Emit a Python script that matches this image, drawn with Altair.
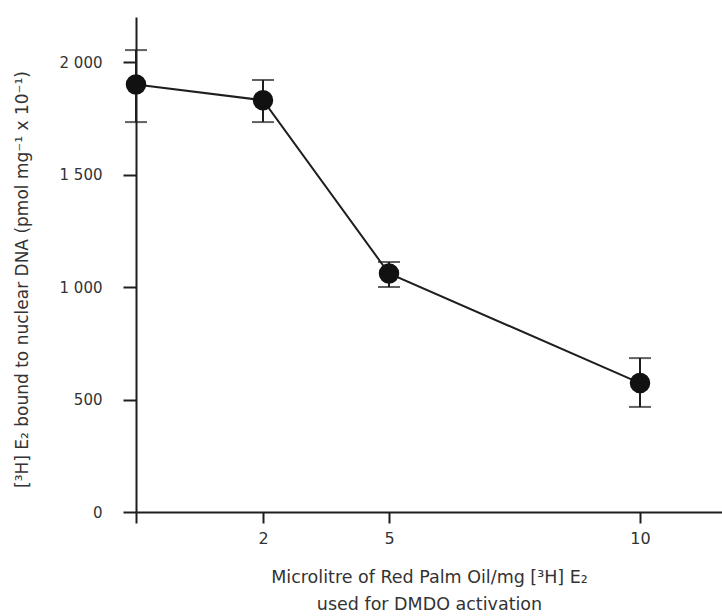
import altair as alt
import pandas as pd

dose = [0, 2, 5, 10]
mean = [1900, 1830, 1060, 573]
lower = [1733, 1733, 1000, 467]
upper = [2053, 1920, 1111, 684]

x_ticks = [0, 2, 5, 10]
y_ticks = [0, 500, 1000, 1500, 2000]

df = pd.DataFrame({"dose": dose, "mean": mean, "lower": lower, "upper": upper})

INK = "#1e1e1e"
TXT = "#333333"
FONT = "DejaVu Sans"

xscale = alt.Scale(domain=[0, 2, 5, 10, 11.63], range=[0, 127, 253, 504, 586], nice=False, zero=False)
yscale = alt.Scale(domain=[0, 2200], nice=False)

x_enc = alt.X(
    "dose:Q",
    scale=xscale,
    axis=alt.Axis(
        values=x_ticks,
        labelExpr="datum.value == 0 ? '' : datum.label",
        title=["Microlitre of Red Palm Oil/mg [³H] E₂", "used for DMDO activation"],
        grid=False,
        domainColor=INK,
        domainWidth=2,
        tickColor=INK,
        tickWidth=2,
        tickSize=11,
        labelPadding=7,
        labelFontSize=16,
        labelColor=TXT,
        labelFont=FONT,
        titleFont=FONT,
        titleFontSize=17.5,
        titleFontWeight="normal",
        titleColor=TXT,
        titlePadding=22,
        titleLineHeight=27,
    ),
)

y_enc = alt.Y(
    "mean:Q",
    scale=yscale,
    axis=alt.Axis(
        values=y_ticks,
        labelExpr="replace(format(datum.value, ','), ',', ' ')",
        title="[³H] E₂ bound to nuclear DNA (pmol mg⁻¹ x 10⁻¹)",
        grid=False,
        domainColor=INK,
        domainWidth=2,
        tickColor=INK,
        tickWidth=2,
        tickSize=13,
        labelPadding=21,
        labelFontSize=15,
        labelColor=TXT,
        labelFont=FONT,
        titleFont=FONT,
        titleFontSize=17,
        titleFontWeight="normal",
        titleColor=TXT,
        titleX=-114,
        titleY=262,
        titleBaseline="middle",
        titleAngle=-90,
    ),
)

base = alt.Chart(df)

line = base.mark_line(color=INK, strokeWidth=2).encode(x=x_enc, y=y_enc)

bars = base.mark_rule(color=INK, strokeWidth=2).encode(
    x="dose:Q", y="lower:Q", y2="upper:Q"
)
cap_lo = base.mark_tick(color=INK, size=22, thickness=2, orient="horizontal").encode(
    x="dose:Q", y="lower:Q"
)
cap_hi = base.mark_tick(color=INK, size=22, thickness=2, orient="horizontal").encode(
    x="dose:Q", y="upper:Q"
)
points = base.mark_circle(color="#111111", opacity=1, size=420).encode(x="dose:Q", y="mean:Q")

chart = (
    alt.layer(line, bars, cap_lo, cap_hi, points)
    .properties(
        width=586,
        height=495,
        autosize=alt.AutoSizeParams(type="none"),
        padding={"left": 136, "top": 17, "right": 0, "bottom": 104},
        background="white",
    )
    .configure_view(stroke=None)
)

chart.save("out.html", embed_options={"renderer": "svg", "actions": False})
